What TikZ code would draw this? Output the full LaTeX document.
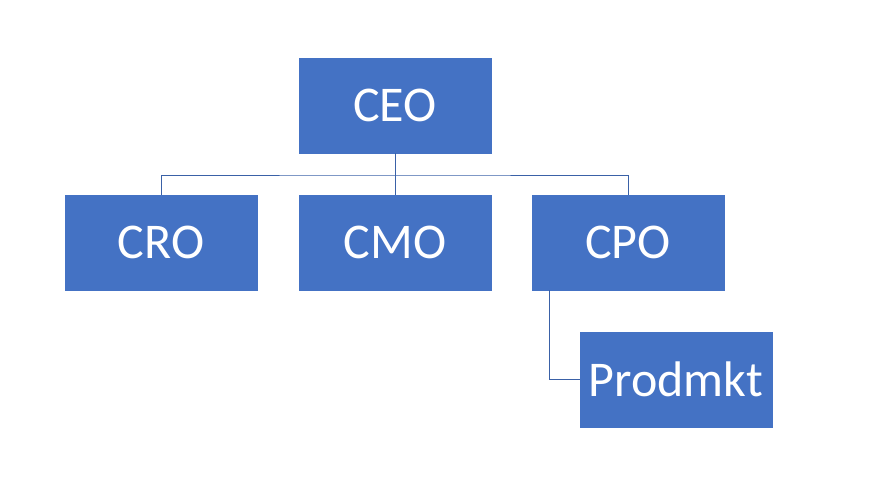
\documentclass[tikz,border=0pt]{standalone}
\usepackage{fontspec}
\setmainfont{Carlito}
\definecolor{boxblue}{HTML}{4472C4}
\begin{document}
\begin{tikzpicture}[x=1pt,y=-1pt,
  box/.style={fill=boxblue,draw=boxblue,minimum width=192pt,minimum height=95pt,inner sep=0pt,text=white,font=\fontsize{50}{56}\selectfont},
  conn/.style={draw=boxblue!85!black,line width=0.8pt}]
\useasboundingbox (0,0) rectangle (891,499);
\node[box] (ceo) at (395,105.5) {CEO};
\node[box] (cro) at (161,242.5) {CRO};
\node[box] (cmo) at (395,242.5) {CMO};
\node[box] (cpo) at (628,242.5) {CPO};
\node[box] (pm) at (676,379.5) {Prodmkt};
\coordinate (j) at (395,175);
\draw[conn] (ceo.south) -- (j);
\draw[conn] (cro.north) |- (j) -| (cpo.north);
\draw[conn] (j) -- (cmo.north);
\coordinate (cpoleft) at ([xshift=18pt]cpo.south west);
\draw[conn] (cpoleft) |- (pm.west);
\end{tikzpicture}
\end{document}
